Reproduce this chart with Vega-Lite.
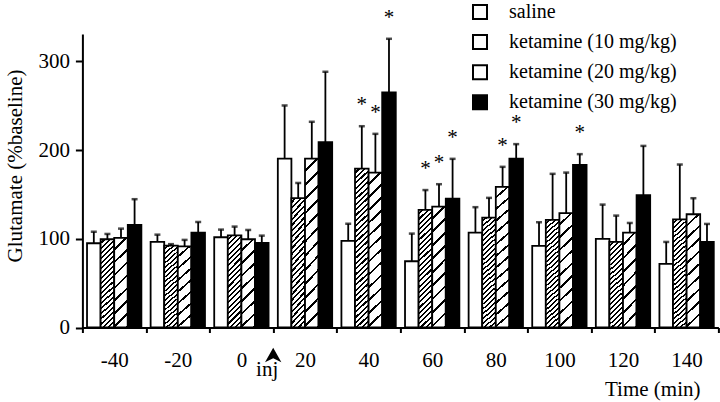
{
"$schema": "https://vega.github.io/schema/vega-lite/v6.json",
"width": 636, "height": 293.5,
"autosize": {"type": "none"},
"padding": {"left": 82.4, "top": 34, "right": 1.6, "bottom": 74.5},
"config": {"font": "Liberation Serif", "view": {"stroke": null},
  "axis": {"labelFont": "Liberation Serif", "titleFont": "Liberation Serif", "domainColor": "#000", "tickColor": "#000", "labelColor": "#000", "titleColor": "#000", "grid": false, "titleFontWeight": "normal", "domainWidth": 2, "tickWidth": 2},
  "legend": {"labelFont": "Liberation Serif", "titleFont": "Liberation Serif"},
  "text": {"font": "Liberation Serif"}},
"data": {"values": [
{"time":"-40","dose":"saline","value":95,"err":108},
{"time":"-40","dose":"ketamine (10 mg/kg)","value":99.5,"err":105.5},
{"time":"-40","dose":"ketamine (20 mg/kg)","value":101,"err":111.5},
{"time":"-40","dose":"ketamine (30 mg/kg)","value":115.7,"err":144.7},
{"time":"-20","dose":"saline","value":96.5,"err":104.7},
{"time":"-20","dose":"ketamine (10 mg/kg)","value":92.3,"err":94},
{"time":"-20","dose":"ketamine (20 mg/kg)","value":91.6,"err":98.8},
{"time":"-20","dose":"ketamine (30 mg/kg)","value":107,"err":119},
{"time":"0","dose":"saline","value":101.8,"err":110.4},
{"time":"0","dose":"ketamine (10 mg/kg)","value":104,"err":113.8},
{"time":"0","dose":"ketamine (20 mg/kg)","value":99.5,"err":110},
{"time":"0","dose":"ketamine (30 mg/kg)","value":95.4,"err":103.6},
{"time":"20","dose":"saline","value":190.5,"err":250.4},
{"time":"20","dose":"ketamine (10 mg/kg)","value":146,"err":163},
{"time":"20","dose":"ketamine (20 mg/kg)","value":190.5,"err":232},
{"time":"20","dose":"ketamine (30 mg/kg)","value":209,"err":288.4},
{"time":"40","dose":"saline","value":97.6,"err":117},
{"time":"40","dose":"ketamine (10 mg/kg)","value":179.2,"err":227,"star":true},
{"time":"40","dose":"ketamine (20 mg/kg)","value":174.7,"err":218.4,"star":true},
{"time":"40","dose":"ketamine (30 mg/kg)","value":265,"err":325.6,"star":true},
{"time":"60","dose":"saline","value":74.7,"err":105.9},
{"time":"60","dose":"ketamine (10 mg/kg)","value":132.6,"err":155,"star":true},
{"time":"60","dose":"ketamine (20 mg/kg)","value":136.4,"err":161.6,"star":true},
{"time":"60","dose":"ketamine (30 mg/kg)","value":145.4,"err":190.2,"star":true},
{"time":"80","dose":"saline","value":107,"err":135.7},
{"time":"80","dose":"ketamine (10 mg/kg)","value":124,"err":146.2},
{"time":"80","dose":"ketamine (20 mg/kg)","value":158.6,"err":181.2,"star":true},
{"time":"80","dose":"ketamine (30 mg/kg)","value":190.5,"err":206.8,"star":true},
{"time":"100","dose":"saline","value":92,"err":118.7},
{"time":"100","dose":"ketamine (10 mg/kg)","value":121.3,"err":173.3},
{"time":"100","dose":"ketamine (20 mg/kg)","value":128.9,"err":174.7},
{"time":"100","dose":"ketamine (30 mg/kg)","value":183.4,"err":195.5,"star":true},
{"time":"120","dose":"saline","value":99.9,"err":138.6},
{"time":"120","dose":"ketamine (10 mg/kg)","value":96.5,"err":126.2},
{"time":"120","dose":"ketamine (20 mg/kg)","value":107,"err":117.9},
{"time":"120","dose":"ketamine (30 mg/kg)","value":149.2,"err":204.8},
{"time":"140","dose":"saline","value":71.7,"err":96.5},
{"time":"140","dose":"ketamine (10 mg/kg)","value":122,"err":183.8},
{"time":"140","dose":"ketamine (20 mg/kg)","value":127.7,"err":145.8},
{"time":"140","dose":"ketamine (30 mg/kg)","value":96.5,"err":116.8}
]},
"encoding": {
  "x": {"field": "time", "type": "ordinal",
    "scale": {"domain": ["-40","-20","0","20","40","60","80","100","120","140"], "paddingInner": 0, "paddingOuter": 0},
    "axis": {"tickBand": "extent", "tickSize": 5, "labelFontSize": 21, "labelPadding": 17, "labelAngle": 0,
      "title": "Time (min)", "titleFontSize": 21, "titleAlign": "right", "titleBaseline": "alphabetic", "titleX": 617.6, "titleY": 67.5}},
  "xOffset": {"field": "dose", "type": "nominal",
    "scale": {"domain": ["saline","ketamine (10 mg/kg)","ketamine (20 mg/kg)","ketamine (30 mg/kg)"], "paddingInner": 0, "paddingOuter": 0.34}}
},
"layer": [
{
  "mark": {"type": "bar", "stroke": "#000", "strokeWidth": 1.8},
  "encoding": {
    "y": {"field": "value", "type": "quantitative", "scale": {"domain": [0, 331], "nice": false},
      "axis": {"values": [0,100,200,300], "tickSize": 7, "labelFontSize": 21, "labelPadding": 6,
        "title": "Glutamate (%baseline)", "titleFontSize": 21, "titleAngle": 270, "titleAlign": "center", "titleBaseline": "alphabetic", "titleX": -61, "titleY": 131.5}},
    "fill": {"field": "dose", "type": "nominal",
      "scale": {"domain": ["saline","ketamine (10 mg/kg)","ketamine (20 mg/kg)","ketamine (30 mg/kg)"], "range": ["#fff","#fff","#fff","#000"]},
      "legend": {"orient": "none", "legendX": 387.6, "legendY": -32, "title": null, "padding": 0,
        "symbolType": "square", "symbolSize": 196, "symbolStrokeWidth": 2, "symbolStrokeColor": "#000",
        "labelFontSize": 20, "labelOffset": 19, "rowPadding": 8.1, "labelColor": "#000", "labelLimit": 400, "labelFont": "Liberation Serif"},
      "condition": [
        {"test": "datum.dose === 'ketamine (10 mg/kg)' && datum.value < 112", "value": {"gradient":"linear","x1":0,"y1":0,"x2":0.1663,"y2":1.1234,"stops":[
{"offset":0,"color":"#fff"},{"offset":0.03,"color":"#fff"},{"offset":0.03,"color":"#000"},{"offset":0.05,"color":"#000"},
{"offset":0.05,"color":"#fff"},{"offset":0.08,"color":"#fff"},{"offset":0.08,"color":"#000"},{"offset":0.1,"color":"#000"},
{"offset":0.1,"color":"#fff"},{"offset":0.13,"color":"#fff"},{"offset":0.13,"color":"#000"},{"offset":0.15,"color":"#000"},
{"offset":0.15,"color":"#fff"},{"offset":0.18,"color":"#fff"},{"offset":0.18,"color":"#000"},{"offset":0.2,"color":"#000"},
{"offset":0.2,"color":"#fff"},{"offset":0.23,"color":"#fff"},{"offset":0.23,"color":"#000"},{"offset":0.25,"color":"#000"},
{"offset":0.25,"color":"#fff"},{"offset":0.28,"color":"#fff"},{"offset":0.28,"color":"#000"},{"offset":0.3,"color":"#000"},
{"offset":0.3,"color":"#fff"},{"offset":0.33,"color":"#fff"},{"offset":0.33,"color":"#000"},{"offset":0.35,"color":"#000"},
{"offset":0.35,"color":"#fff"},{"offset":0.38,"color":"#fff"},{"offset":0.38,"color":"#000"},{"offset":0.4,"color":"#000"},
{"offset":0.4,"color":"#fff"},{"offset":0.43,"color":"#fff"},{"offset":0.43,"color":"#000"},{"offset":0.45,"color":"#000"},
{"offset":0.45,"color":"#fff"},{"offset":0.48,"color":"#fff"},{"offset":0.48,"color":"#000"},{"offset":0.5,"color":"#000"},
{"offset":0.5,"color":"#fff"},{"offset":0.53,"color":"#fff"},{"offset":0.53,"color":"#000"},{"offset":0.55,"color":"#000"},
{"offset":0.55,"color":"#fff"},{"offset":0.58,"color":"#fff"},{"offset":0.58,"color":"#000"},{"offset":0.6,"color":"#000"},
{"offset":0.6,"color":"#fff"},{"offset":0.63,"color":"#fff"},{"offset":0.63,"color":"#000"},{"offset":0.65,"color":"#000"},
{"offset":0.65,"color":"#fff"},{"offset":0.68,"color":"#fff"},{"offset":0.68,"color":"#000"},{"offset":0.7,"color":"#000"},
{"offset":0.7,"color":"#fff"},{"offset":0.73,"color":"#fff"},{"offset":0.73,"color":"#000"},{"offset":0.75,"color":"#000"},
{"offset":0.75,"color":"#fff"},{"offset":0.78,"color":"#fff"},{"offset":0.78,"color":"#000"},{"offset":0.8,"color":"#000"},
{"offset":0.8,"color":"#fff"},{"offset":0.83,"color":"#fff"},{"offset":0.83,"color":"#000"},{"offset":0.85,"color":"#000"},
{"offset":0.85,"color":"#fff"},{"offset":0.88,"color":"#fff"},{"offset":0.88,"color":"#000"},{"offset":0.9,"color":"#000"},
{"offset":0.9,"color":"#fff"},{"offset":0.93,"color":"#fff"},{"offset":0.93,"color":"#000"},{"offset":0.95,"color":"#000"},
{"offset":0.95,"color":"#fff"},{"offset":0.98,"color":"#fff"},{"offset":0.98,"color":"#000"},{"offset":1,"color":"#000"}]}},
        {"test": "datum.dose === 'ketamine (10 mg/kg)' && datum.value < 150", "value": {"gradient":"linear","x1":0,"y1":0,"x2":0.1242,"y2":1.099,"stops":[
{"offset":0,"color":"#fff"},{"offset":0.024,"color":"#fff"},{"offset":0.024,"color":"#000"},{"offset":0.04,"color":"#000"},
{"offset":0.04,"color":"#fff"},{"offset":0.064,"color":"#fff"},{"offset":0.064,"color":"#000"},{"offset":0.08,"color":"#000"},
{"offset":0.08,"color":"#fff"},{"offset":0.104,"color":"#fff"},{"offset":0.104,"color":"#000"},{"offset":0.12,"color":"#000"},
{"offset":0.12,"color":"#fff"},{"offset":0.144,"color":"#fff"},{"offset":0.144,"color":"#000"},{"offset":0.16,"color":"#000"},
{"offset":0.16,"color":"#fff"},{"offset":0.184,"color":"#fff"},{"offset":0.184,"color":"#000"},{"offset":0.2,"color":"#000"},
{"offset":0.2,"color":"#fff"},{"offset":0.224,"color":"#fff"},{"offset":0.224,"color":"#000"},{"offset":0.24,"color":"#000"},
{"offset":0.24,"color":"#fff"},{"offset":0.264,"color":"#fff"},{"offset":0.264,"color":"#000"},{"offset":0.28,"color":"#000"},
{"offset":0.28,"color":"#fff"},{"offset":0.304,"color":"#fff"},{"offset":0.304,"color":"#000"},{"offset":0.32,"color":"#000"},
{"offset":0.32,"color":"#fff"},{"offset":0.344,"color":"#fff"},{"offset":0.344,"color":"#000"},{"offset":0.36,"color":"#000"},
{"offset":0.36,"color":"#fff"},{"offset":0.384,"color":"#fff"},{"offset":0.384,"color":"#000"},{"offset":0.4,"color":"#000"},
{"offset":0.4,"color":"#fff"},{"offset":0.424,"color":"#fff"},{"offset":0.424,"color":"#000"},{"offset":0.44,"color":"#000"},
{"offset":0.44,"color":"#fff"},{"offset":0.464,"color":"#fff"},{"offset":0.464,"color":"#000"},{"offset":0.48,"color":"#000"},
{"offset":0.48,"color":"#fff"},{"offset":0.504,"color":"#fff"},{"offset":0.504,"color":"#000"},{"offset":0.52,"color":"#000"},
{"offset":0.52,"color":"#fff"},{"offset":0.544,"color":"#fff"},{"offset":0.544,"color":"#000"},{"offset":0.56,"color":"#000"},
{"offset":0.56,"color":"#fff"},{"offset":0.584,"color":"#fff"},{"offset":0.584,"color":"#000"},{"offset":0.6,"color":"#000"},
{"offset":0.6,"color":"#fff"},{"offset":0.624,"color":"#fff"},{"offset":0.624,"color":"#000"},{"offset":0.64,"color":"#000"},
{"offset":0.64,"color":"#fff"},{"offset":0.664,"color":"#fff"},{"offset":0.664,"color":"#000"},{"offset":0.68,"color":"#000"},
{"offset":0.68,"color":"#fff"},{"offset":0.704,"color":"#fff"},{"offset":0.704,"color":"#000"},{"offset":0.72,"color":"#000"},
{"offset":0.72,"color":"#fff"},{"offset":0.744,"color":"#fff"},{"offset":0.744,"color":"#000"},{"offset":0.76,"color":"#000"},
{"offset":0.76,"color":"#fff"},{"offset":0.784,"color":"#fff"},{"offset":0.784,"color":"#000"},{"offset":0.8,"color":"#000"},
{"offset":0.8,"color":"#fff"},{"offset":0.824,"color":"#fff"},{"offset":0.824,"color":"#000"},{"offset":0.84,"color":"#000"},
{"offset":0.84,"color":"#fff"},{"offset":0.864,"color":"#fff"},{"offset":0.864,"color":"#000"},{"offset":0.88,"color":"#000"},
{"offset":0.88,"color":"#fff"},{"offset":0.904,"color":"#fff"},{"offset":0.904,"color":"#000"},{"offset":0.92,"color":"#000"},
{"offset":0.92,"color":"#fff"},{"offset":0.944,"color":"#fff"},{"offset":0.944,"color":"#000"},{"offset":0.96,"color":"#000"},
{"offset":0.96,"color":"#fff"},{"offset":0.984,"color":"#fff"},{"offset":0.984,"color":"#000"},{"offset":1,"color":"#000"}]}},
        {"test": "datum.dose === 'ketamine (10 mg/kg)'", "value": {"gradient":"linear","x1":0,"y1":0,"x2":0.0879,"y2":1.0746,"stops":[
{"offset":0,"color":"#fff"},{"offset":0.01875,"color":"#fff"},{"offset":0.01875,"color":"#000"},{"offset":0.03125,"color":"#000"},
{"offset":0.03125,"color":"#fff"},{"offset":0.05,"color":"#fff"},{"offset":0.05,"color":"#000"},{"offset":0.0625,"color":"#000"},
{"offset":0.0625,"color":"#fff"},{"offset":0.08125,"color":"#fff"},{"offset":0.08125,"color":"#000"},{"offset":0.09375,"color":"#000"},
{"offset":0.09375,"color":"#fff"},{"offset":0.1125,"color":"#fff"},{"offset":0.1125,"color":"#000"},{"offset":0.125,"color":"#000"},
{"offset":0.125,"color":"#fff"},{"offset":0.14375,"color":"#fff"},{"offset":0.14375,"color":"#000"},{"offset":0.15625,"color":"#000"},
{"offset":0.15625,"color":"#fff"},{"offset":0.175,"color":"#fff"},{"offset":0.175,"color":"#000"},{"offset":0.1875,"color":"#000"},
{"offset":0.1875,"color":"#fff"},{"offset":0.20625,"color":"#fff"},{"offset":0.20625,"color":"#000"},{"offset":0.21875,"color":"#000"},
{"offset":0.21875,"color":"#fff"},{"offset":0.2375,"color":"#fff"},{"offset":0.2375,"color":"#000"},{"offset":0.25,"color":"#000"},
{"offset":0.25,"color":"#fff"},{"offset":0.26875,"color":"#fff"},{"offset":0.26875,"color":"#000"},{"offset":0.28125,"color":"#000"},
{"offset":0.28125,"color":"#fff"},{"offset":0.3,"color":"#fff"},{"offset":0.3,"color":"#000"},{"offset":0.3125,"color":"#000"},
{"offset":0.3125,"color":"#fff"},{"offset":0.33125,"color":"#fff"},{"offset":0.33125,"color":"#000"},{"offset":0.34375,"color":"#000"},
{"offset":0.34375,"color":"#fff"},{"offset":0.3625,"color":"#fff"},{"offset":0.3625,"color":"#000"},{"offset":0.375,"color":"#000"},
{"offset":0.375,"color":"#fff"},{"offset":0.39375,"color":"#fff"},{"offset":0.39375,"color":"#000"},{"offset":0.40625,"color":"#000"},
{"offset":0.40625,"color":"#fff"},{"offset":0.425,"color":"#fff"},{"offset":0.425,"color":"#000"},{"offset":0.4375,"color":"#000"},
{"offset":0.4375,"color":"#fff"},{"offset":0.45625,"color":"#fff"},{"offset":0.45625,"color":"#000"},{"offset":0.46875,"color":"#000"},
{"offset":0.46875,"color":"#fff"},{"offset":0.4875,"color":"#fff"},{"offset":0.4875,"color":"#000"},{"offset":0.5,"color":"#000"},
{"offset":0.5,"color":"#fff"},{"offset":0.51875,"color":"#fff"},{"offset":0.51875,"color":"#000"},{"offset":0.53125,"color":"#000"},
{"offset":0.53125,"color":"#fff"},{"offset":0.55,"color":"#fff"},{"offset":0.55,"color":"#000"},{"offset":0.5625,"color":"#000"},
{"offset":0.5625,"color":"#fff"},{"offset":0.58125,"color":"#fff"},{"offset":0.58125,"color":"#000"},{"offset":0.59375,"color":"#000"},
{"offset":0.59375,"color":"#fff"},{"offset":0.6125,"color":"#fff"},{"offset":0.6125,"color":"#000"},{"offset":0.625,"color":"#000"},
{"offset":0.625,"color":"#fff"},{"offset":0.64375,"color":"#fff"},{"offset":0.64375,"color":"#000"},{"offset":0.65625,"color":"#000"},
{"offset":0.65625,"color":"#fff"},{"offset":0.675,"color":"#fff"},{"offset":0.675,"color":"#000"},{"offset":0.6875,"color":"#000"},
{"offset":0.6875,"color":"#fff"},{"offset":0.70625,"color":"#fff"},{"offset":0.70625,"color":"#000"},{"offset":0.71875,"color":"#000"},
{"offset":0.71875,"color":"#fff"},{"offset":0.7375,"color":"#fff"},{"offset":0.7375,"color":"#000"},{"offset":0.75,"color":"#000"},
{"offset":0.75,"color":"#fff"},{"offset":0.76875,"color":"#fff"},{"offset":0.76875,"color":"#000"},{"offset":0.78125,"color":"#000"},
{"offset":0.78125,"color":"#fff"},{"offset":0.8,"color":"#fff"},{"offset":0.8,"color":"#000"},{"offset":0.8125,"color":"#000"},
{"offset":0.8125,"color":"#fff"},{"offset":0.83125,"color":"#fff"},{"offset":0.83125,"color":"#000"},{"offset":0.84375,"color":"#000"},
{"offset":0.84375,"color":"#fff"},{"offset":0.8625,"color":"#fff"},{"offset":0.8625,"color":"#000"},{"offset":0.875,"color":"#000"},
{"offset":0.875,"color":"#fff"},{"offset":0.89375,"color":"#fff"},{"offset":0.89375,"color":"#000"},{"offset":0.90625,"color":"#000"},
{"offset":0.90625,"color":"#fff"},{"offset":0.925,"color":"#fff"},{"offset":0.925,"color":"#000"},{"offset":0.9375,"color":"#000"},
{"offset":0.9375,"color":"#fff"},{"offset":0.95625,"color":"#fff"},{"offset":0.95625,"color":"#000"},{"offset":0.96875,"color":"#000"},
{"offset":0.96875,"color":"#fff"},{"offset":0.9875,"color":"#fff"},{"offset":0.9875,"color":"#000"},{"offset":1,"color":"#000"}]}},
        {"test": "datum.dose === 'ketamine (20 mg/kg)' && datum.value < 112", "value": {"gradient":"linear","x1":0,"y1":0,"x2":0.1663,"y2":1.1234,"stops":[
{"offset":0,"color":"#fff"},{"offset":0.1,"color":"#fff"},{"offset":0.1,"color":"#000"},{"offset":0.125,"color":"#000"},
{"offset":0.125,"color":"#fff"},{"offset":0.225,"color":"#fff"},{"offset":0.225,"color":"#000"},{"offset":0.25,"color":"#000"},
{"offset":0.25,"color":"#fff"},{"offset":0.35,"color":"#fff"},{"offset":0.35,"color":"#000"},{"offset":0.375,"color":"#000"},
{"offset":0.375,"color":"#fff"},{"offset":0.475,"color":"#fff"},{"offset":0.475,"color":"#000"},{"offset":0.5,"color":"#000"},
{"offset":0.5,"color":"#fff"},{"offset":0.6,"color":"#fff"},{"offset":0.6,"color":"#000"},{"offset":0.625,"color":"#000"},
{"offset":0.625,"color":"#fff"},{"offset":0.725,"color":"#fff"},{"offset":0.725,"color":"#000"},{"offset":0.75,"color":"#000"},
{"offset":0.75,"color":"#fff"},{"offset":0.85,"color":"#fff"},{"offset":0.85,"color":"#000"},{"offset":0.875,"color":"#000"},
{"offset":0.875,"color":"#fff"},{"offset":0.975,"color":"#fff"},{"offset":0.975,"color":"#000"},{"offset":1,"color":"#000"}]}},
        {"test": "datum.dose === 'ketamine (20 mg/kg)' && datum.value < 150", "value": {"gradient":"linear","x1":0,"y1":0,"x2":0.1242,"y2":1.099,"stops":[
{"offset":0,"color":"#fff"},{"offset":0.08,"color":"#fff"},{"offset":0.08,"color":"#000"},{"offset":0.1,"color":"#000"},
{"offset":0.1,"color":"#fff"},{"offset":0.18,"color":"#fff"},{"offset":0.18,"color":"#000"},{"offset":0.2,"color":"#000"},
{"offset":0.2,"color":"#fff"},{"offset":0.28,"color":"#fff"},{"offset":0.28,"color":"#000"},{"offset":0.3,"color":"#000"},
{"offset":0.3,"color":"#fff"},{"offset":0.38,"color":"#fff"},{"offset":0.38,"color":"#000"},{"offset":0.4,"color":"#000"},
{"offset":0.4,"color":"#fff"},{"offset":0.48,"color":"#fff"},{"offset":0.48,"color":"#000"},{"offset":0.5,"color":"#000"},
{"offset":0.5,"color":"#fff"},{"offset":0.58,"color":"#fff"},{"offset":0.58,"color":"#000"},{"offset":0.6,"color":"#000"},
{"offset":0.6,"color":"#fff"},{"offset":0.68,"color":"#fff"},{"offset":0.68,"color":"#000"},{"offset":0.7,"color":"#000"},
{"offset":0.7,"color":"#fff"},{"offset":0.78,"color":"#fff"},{"offset":0.78,"color":"#000"},{"offset":0.8,"color":"#000"},
{"offset":0.8,"color":"#fff"},{"offset":0.88,"color":"#fff"},{"offset":0.88,"color":"#000"},{"offset":0.9,"color":"#000"},
{"offset":0.9,"color":"#fff"},{"offset":0.98,"color":"#fff"},{"offset":0.98,"color":"#000"},{"offset":1,"color":"#000"}]}},
        {"test": "datum.dose === 'ketamine (20 mg/kg)'", "value": {"gradient":"linear","x1":0,"y1":0,"x2":0.0903,"y2":1.0763,"stops":[
{"offset":0,"color":"#fff"},{"offset":0.0615,"color":"#fff"},{"offset":0.0615,"color":"#000"},{"offset":0.0769,"color":"#000"},
{"offset":0.0769,"color":"#fff"},{"offset":0.1384,"color":"#fff"},{"offset":0.1384,"color":"#000"},{"offset":0.1538,"color":"#000"},
{"offset":0.1538,"color":"#fff"},{"offset":0.2153,"color":"#fff"},{"offset":0.2153,"color":"#000"},{"offset":0.2308,"color":"#000"},
{"offset":0.2308,"color":"#fff"},{"offset":0.2923,"color":"#fff"},{"offset":0.2923,"color":"#000"},{"offset":0.3077,"color":"#000"},
{"offset":0.3077,"color":"#fff"},{"offset":0.3692,"color":"#fff"},{"offset":0.3692,"color":"#000"},{"offset":0.3846,"color":"#000"},
{"offset":0.3846,"color":"#fff"},{"offset":0.4461,"color":"#fff"},{"offset":0.4461,"color":"#000"},{"offset":0.4615,"color":"#000"},
{"offset":0.4615,"color":"#fff"},{"offset":0.523,"color":"#fff"},{"offset":0.523,"color":"#000"},{"offset":0.5385,"color":"#000"},
{"offset":0.5385,"color":"#fff"},{"offset":0.6,"color":"#fff"},{"offset":0.6,"color":"#000"},{"offset":0.6154,"color":"#000"},
{"offset":0.6154,"color":"#fff"},{"offset":0.6769,"color":"#fff"},{"offset":0.6769,"color":"#000"},{"offset":0.6923,"color":"#000"},
{"offset":0.6923,"color":"#fff"},{"offset":0.7538,"color":"#fff"},{"offset":0.7538,"color":"#000"},{"offset":0.7692,"color":"#000"},
{"offset":0.7692,"color":"#fff"},{"offset":0.8307,"color":"#fff"},{"offset":0.8307,"color":"#000"},{"offset":0.8462,"color":"#000"},
{"offset":0.8462,"color":"#fff"},{"offset":0.9077,"color":"#fff"},{"offset":0.9077,"color":"#000"},{"offset":0.9231,"color":"#000"},
{"offset":0.9231,"color":"#fff"},{"offset":0.9846,"color":"#fff"},{"offset":0.9846,"color":"#000"},{"offset":1,"color":"#000"}]}}
      ]}
  }
},
{
  "mark": {"type": "rule", "color": "#000", "strokeWidth": 1.8},
  "encoding": {"y": {"field": "value", "type": "quantitative"}, "y2": {"field": "err"}}
},
{
  "mark": {"type": "tick", "color": "#000", "thickness": 2.5, "size": 6},
  "encoding": {"y": {"field": "err", "type": "quantitative"}}
},
{
  "transform": [{"filter": "datum.star === true"}],
  "mark": {"type": "text", "text": "*", "font": "Liberation Serif", "fontSize": 21, "color": "#000", "baseline": "alphabetic", "dy": -15},
  "encoding": {"y": {"field": "err", "type": "quantitative"}}
},
{
  "data": {"values": [{"label": "inj"}]},
  "mark": {"type": "point", "shape": "M0,-0.8L0.9,0.8L0,0.35L-0.9,0.8Z", "filled": true, "color": "#000", "opacity": 1, "size": 330},
  "encoding": {"x": {"datum": "20", "type": "ordinal", "bandPosition": 0}, "xOffset": null, "y": {"datum": -31, "type": "quantitative"}}
},
{
  "data": {"values": [{"label": "inj"}]},
  "mark": {"type": "text", "font": "Liberation Serif", "fontSize": 21, "color": "#000", "baseline": "alphabetic", "dy": 48.5, "dx": -6},
  "encoding": {"x": {"datum": "20", "type": "ordinal", "bandPosition": 0}, "xOffset": null, "y": {"datum": 0, "type": "quantitative"}, "text": {"field": "label"}}
}
]
}
